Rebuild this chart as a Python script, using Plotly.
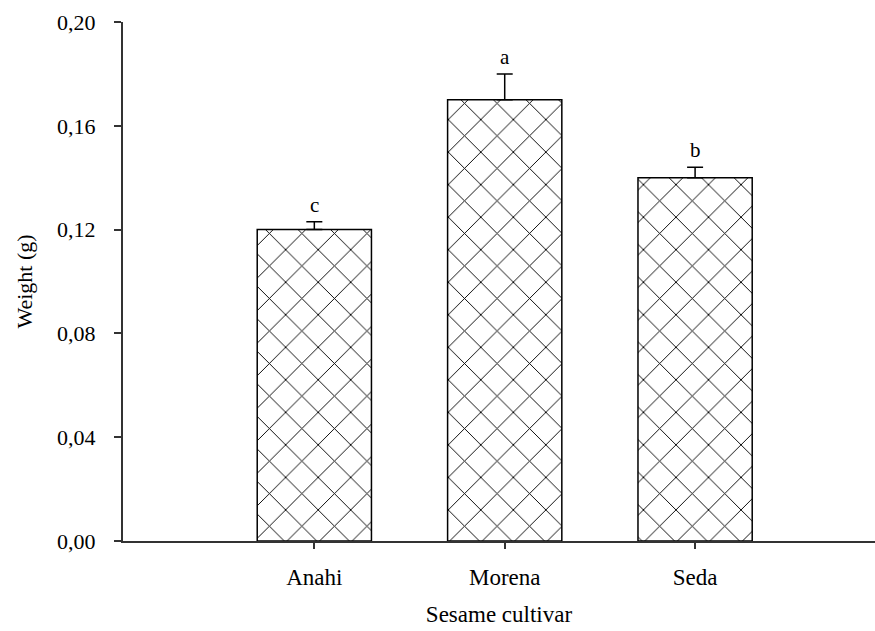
import plotly.graph_objects as go

cultivars = ["Anahi", "Morena", "Seda"]
weights = [0.12, 0.17, 0.14]
errors = [0.003, 0.010, 0.004]
letters = ["c", "a", "b"]
y_tick_vals = [0.00, 0.04, 0.08, 0.12, 0.16, 0.20]
y_tick_text = ["0,00", "0,04", "0,08", "0,12", "0,16", "0,20"]

font_family = "Liberation Serif, Times New Roman, serif"
xpos = list(range(len(cultivars)))

fig = go.Figure()
fig.add_trace(go.Bar(
    x=xpos, y=weights, width=0.6,
    marker=dict(
        color="white",
        line=dict(color="black", width=1.5),
        pattern=dict(shape="x", size=23, solidity=0.08, fgcolor="#000000", fgopacity=1,
                     bgcolor="white", fillmode="replace"),
    ),
    error_y=dict(type="data", array=errors, arrayminus=[0] * len(errors), symmetric=False,
                 color="black", thickness=1.5, width=8),
    showlegend=False,
))

for xi, v, e, l in zip(xpos, weights, errors, letters):
    fig.add_annotation(x=xi, y=v + e, text=l, showarrow=False, yanchor="bottom", yshift=3,
                       font=dict(family=font_family, size=21, color="black"))

fig.update_layout(
    width=875, height=631,
    margin=dict(l=123, r=0, t=22, b=90),
    plot_bgcolor="white", paper_bgcolor="white",
    font=dict(family=font_family, size=22, color="black"),
)
fig.update_xaxes(
    range=[-1.005, 2.945], tickvals=xpos, ticktext=cultivars,
    showline=True, linecolor="#333333", linewidth=2, ticks="outside", ticklen=6, tickwidth=1.5,
    tickcolor="#333333", showgrid=False, zeroline=False, ticklabelstandoff=8,
    tickfont=dict(size=23),
    title=dict(text="Sesame cultivar", standoff=17, font=dict(size=23)),
)
fig.update_yaxes(
    range=[0, 0.2], tickvals=y_tick_vals, ticktext=y_tick_text,
    showline=True, linecolor="#333333", linewidth=2, ticks="outside", ticklen=7, tickwidth=1.5,
    tickcolor="#333333", showgrid=False, zeroline=False, ticklabelstandoff=14,
    title=dict(text="Weight (g)", standoff=18, font=dict(size=22)),
)

fig.write_html("out.html", config={"displayModeBar": False},
               post_script="document.body.style.margin='0';document.body.style.padding='0';")
